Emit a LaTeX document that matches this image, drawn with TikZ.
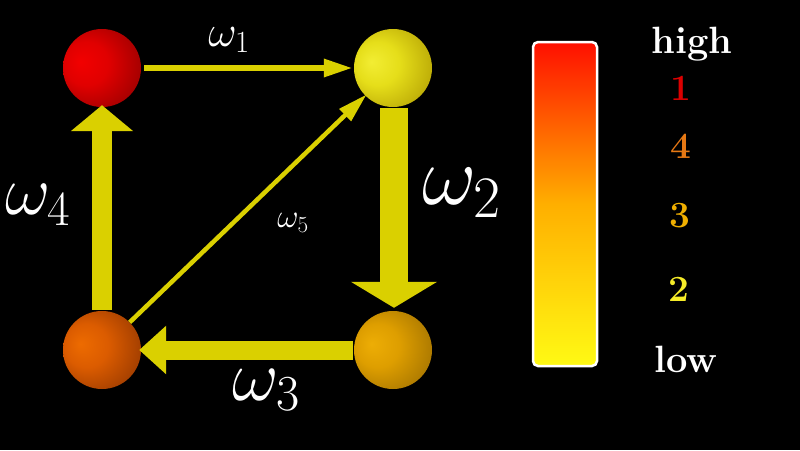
\RequirePackage{fix-cm}
\documentclass[tikz,border=0pt]{standalone}
\usepackage{fontspec}
\usetikzlibrary{arrows.meta,shadings}
\definecolor{arrowy}{RGB}{218,208,0}
\definecolor{barTop}{RGB}{255,15,0}
\definecolor{barMid}{RGB}{255,175,0}
\definecolor{barBot}{RGB}{255,250,20}
\definecolor{numred}{RGB}{220,0,0}
\definecolor{numora}{RGB}{230,120,20}
\definecolor{numgold}{RGB}{240,175,0}
\definecolor{numyel}{RGB}{245,235,40}
\pgfdeclareradialshading{ballRed}{\pgfpoint{-14bp}{4bp}}{rgb(0bp)=(0.95,0,0); rgb(14bp)=(0.88,0,0); rgb(38bp)=(0.55,0,0); rgb(50bp)=(0.5,0,0)}
\pgfdeclareradialshading{ballYel}{\pgfpoint{-14bp}{4bp}}{rgb(0bp)=(0.95,0.93,0.2); rgb(14bp)=(0.9,0.87,0.1); rgb(38bp)=(0.68,0.6,0); rgb(50bp)=(0.6,0.52,0)}
\pgfdeclareradialshading{ballOra}{\pgfpoint{-14bp}{4bp}}{rgb(0bp)=(0.93,0.42,0); rgb(14bp)=(0.86,0.36,0); rgb(38bp)=(0.55,0.2,0); rgb(50bp)=(0.5,0.18,0)}
\pgfdeclareradialshading{ballGold}{\pgfpoint{-14bp}{4bp}}{rgb(0bp)=(0.93,0.68,0.02); rgb(14bp)=(0.87,0.62,0); rgb(38bp)=(0.6,0.42,0); rgb(50bp)=(0.55,0.38,0)}
\tikzset{
  ballnode/.style={circle, minimum size=78pt, inner sep=0pt, shading=#1},
  thinarrow/.style={draw=arrowy, line width=6pt, -{Triangle[width=17pt,length=29pt]}},
  midarrow/.style={draw=arrowy, line width=19pt, -{Triangle[width=47pt,length=27pt]}},
  vertarrow/.style={draw=arrowy, line width=20pt, -{Triangle[width=61pt,length=26pt]}},
  bigarrow/.style={draw=arrowy, line width=28pt, -{Triangle[width=85pt,length=26pt]}},
  diagarrow/.style={draw=arrowy, line width=4.5pt, -{Triangle[width=16pt,length=30pt]}},
  wlab/.style={text=white, inner sep=0pt},
  legnum/.style={font=\bfseries\fontsize{37}{40}\selectfont, inner sep=0pt},
  legword/.style={text=white, font=\bfseries\fontsize{38}{42}\selectfont, inner sep=0pt}
}
\begin{document}
\begin{tikzpicture}[x=1pt,y=-1pt]
\fill[black] (0,0) rectangle (800,450);
\useasboundingbox (0,0) rectangle (800,450);
\node[ballnode=ballRed] (tl) at (102,68) {};
\node[ballnode=ballYel] (tr) at (393,68) {};
\node[ballnode=ballOra] (bl) at (102,350) {};
\node[ballnode=ballGold] (br) at (393,350) {};
\draw[thinarrow, shorten <=3pt, shorten >=1pt] (tl.east) -- (tr.west);
\draw[bigarrow, shorten <=1pt, shorten >=3pt] ([xshift=1pt]tr.south) -- ([xshift=1pt]br.north);
\draw[midarrow, shorten <=1pt, shorten >=-2pt] (br.west) -- (bl.east);
\draw[vertarrow, shorten <=1pt, shorten >=-2pt] (bl.north) -- (tl.south);
\draw[diagarrow, shorten >=-2pt] (bl.45) -- (tr.225);
\node[wlab, font=\fontsize{44}{48}\selectfont] (w1) at (229,40) {$\omega_1$};
\node[wlab, font=\fontsize{84}{90}\selectfont] (w2) at (462,193) {$\omega_2$};
\node[wlab, font=\fontsize{72}{78}\selectfont] (w3) at (266,390) {$\omega_3$};
\node[wlab, font=\fontsize{70}{76}\selectfont] (w4) at (38,205) {$\omega_4$};
\node[wlab, font=\fontsize{33}{36}\selectfont] (w5) at (293,223) {$\omega_5$};
\node[draw=white, line width=2.5pt, rounded corners=5pt, minimum width=64pt, minimum height=324pt, inner sep=0pt,
      top color=barTop, bottom color=barBot, middle color=barMid] (bar) at (565,204) {};
\node[legword] (high) at (692,44) {high};
\node[legnum, text=numred] (n1) at (681,88) {1};
\node[legnum, text=numora] (n4) at (681,146) {4};
\node[legnum, text=numgold] (n3) at (680,216) {3};
\node[legnum, text=numyel] (n2) at (679,289) {2};
\node[legword] (low) at (686,359) {low};
\end{tikzpicture}
\end{document}
